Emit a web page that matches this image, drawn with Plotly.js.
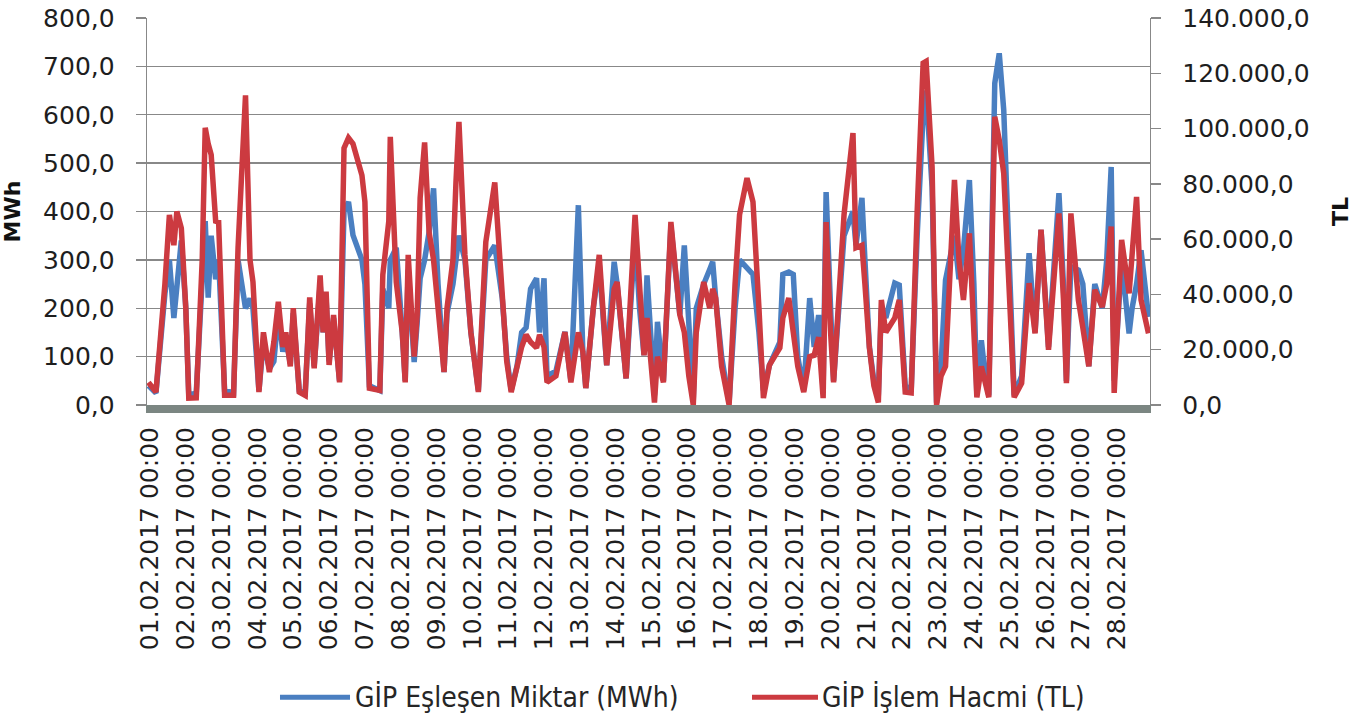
<!DOCTYPE html>
<html>
<head>
<meta charset="utf-8">
<script src="https://cdn.plot.ly/plotly-3.0.1.min.js"></script>
<style>
  html, body { margin: 0; padding: 0; background: #ffffff; }
  #chart { width: 1360px; height: 716px; }
</style>
</head>
<body>
<div id="chart"></div>
<script>
// ---- data (hour index from 01.02.2017 00:00) ----
const dayLabels = [
  "01.02.2017 00:00","02.02.2017 00:00","03.02.2017 00:00","04.02.2017 00:00",
  "05.02.2017 00:00","06.02.2017 00:00","07.02.2017 00:00","08.02.2017 00:00",
  "09.02.2017 00:00","10.02.2017 00:00","11.02.2017 00:00","12.02.2017 00:00",
  "13.02.2017 00:00","14.02.2017 00:00","15.02.2017 00:00","16.02.2017 00:00",
  "17.02.2017 00:00","18.02.2017 00:00","19.02.2017 00:00","20.02.2017 00:00",
  "21.02.2017 00:00","22.02.2017 00:00","23.02.2017 00:00","24.02.2017 00:00",
  "25.02.2017 00:00","26.02.2017 00:00","27.02.2017 00:00","28.02.2017 00:00"
];

const hours = [
  0,5,11,14,17,19,22,25,27,32,36,38,40,42,45,47,51,57,60,65,
  68,70,74,77,81,84,87,90,92,95,97,101,105,108,111,115,117,119,121,124,
  128,131,134,137,143,145,148,155,157,161,162,166,170,172,174,178,180,182,185,188,
  191,194,198,200,204,206,208,212,216,221,226,232,237,240,243,247,250,253,256,260,
  262,265,267,273,279,283,288,291,293,298,302,307,312,314,317,320,326,329,332,334,
  337,339,341,345,350,356,359,362,365,367,372,376,378,380,384,389,393,396,401,405,
  409,412,416,423,425,429,432,435,439,443,446,449,452,454,457,459,466,472,474,478,
  480,483,486,489,491,494,500,503,507,511,515,519,521,525,528,531,534,537,540,543,
  546,550,553,555,558,561,563,567,570,573,576,580,585,590,594,598,603,610,613,615,
  618,623,626,630,634,639,642,645,647,652,657,659,662,665,670
];

// GİP Eşleşen Miktar (MWh)
const matchedMWh = [
  40,25,230,300,180,250,340,200,20,25,250,380,222,350,260,300,30,25,300,200,
  220,200,30,130,75,90,190,110,140,85,190,30,25,210,80,250,150,220,90,180,
  50,400,420,351,300,250,40,30,240,200,300,325,150,50,280,89,170,262,300,357,
  448,250,68,190,250,300,350,300,150,30,300,330,221,100,30,82,150,160,240,262,
  150,262,60,70,151,50,413,110,35,200,290,82,296,250,150,55,350,200,103,268,
  120,20,172,50,370,186,330,150,10,200,250,280,296,221,100,5,200,300,283,270,
  150,30,82,130,270,275,270,100,30,221,120,186,30,440,200,50,350,400,330,428,
  300,120,50,20,200,180,252,248,40,30,350,600,650,450,5,80,258,300,350,260,
  320,465,250,20,134,50,20,665,727,610,355,20,60,314,150,362,120,438,250,50,
  286,279,250,80,250,200,300,492,50,300,148,200,250,320,182
];

// GİP İşlem Hacmi (TL)
const volumeTL = [
  8200,4700,43800,68800,57800,70000,64000,35000,2500,2600,52500,100300,94500,90500,66500,66200,3500,3500,56900,112000,
  52500,44500,4700,26300,11900,22800,37300,21000,26300,14000,35000,4700,3500,38900,13300,46900,26300,41000,14500,32600,
  8200,92900,96600,94500,83100,73500,6100,5300,47100,66500,97000,44500,26300,8200,54300,17500,32600,74900,95000,62500,
  52500,35000,11900,35000,52500,80500,102400,54300,26300,4700,59000,80500,38700,15800,4700,14400,21000,25400,22800,20700,
  25400,21000,8200,10500,26400,8200,26300,19300,6100,35000,54300,14400,42000,44500,26300,9600,68800,43800,18000,31500,
  10500,900,17500,8200,66200,32600,26300,10500,0,26300,44500,35000,42000,38700,14000,0,43800,68800,82100,73500,
  35000,2500,14400,20700,31500,38700,26300,14000,4700,17500,18000,24500,2500,66200,26300,8200,68800,98400,56900,57800,
  43800,20700,7000,900,38000,26300,31500,38000,4700,4400,70000,123700,124300,86100,0,10500,14000,52500,81400,52500,
  38000,62100,26300,2800,14000,7000,2800,104300,95900,83800,50000,2800,7900,44100,25900,63400,20000,69300,38500,7900,
  69300,38000,28000,14000,41700,35500,43800,64600,4400,59700,40400,52500,75300,38000,25900
];

const seriesNames = ["GİP Eşleşen Miktar (MWh)", "GİP İşlem Hacmi (TL)"];
const seriesColors = ["#4a7fc1", "#cc3a40"];

// ---- chart ----
const tickFont = { family: "DejaVu Sans, Verdana, sans-serif", size: 25, color: "#1e1e1e" };
const gridColor = "#888888";

const traces = [
  {
    x: hours, y: matchedMWh, name: seriesNames[0], type: "scatter", mode: "lines",
    line: { color: seriesColors[0], width: 5.5 }, yaxis: "y", showlegend: false
  },
  {
    x: hours, y: volumeTL, name: seriesNames[1], type: "scatter", mode: "lines",
    line: { color: seriesColors[1], width: 5.5 }, yaxis: "y2", showlegend: false
  }
];

const tickvals = dayLabels.map((_, i) => i * 24 + 1);

// legend drawn as shapes + text (paper coordinates)
const legY = -0.755;
const legFont = { family: "Liberation Sans Narrow, DejaVu Sans Condensed, Liberation Sans, sans-serif", size: 28, color: "#262626" };
const layout = {
  width: 1360, height: 716,
  margin: { l: 147, r: 210, t: 18, b: 311 },
  paper_bgcolor: "#ffffff", plot_bgcolor: "#ffffff",
  separators: ",.",
  showlegend: false,
  xaxis: {
    range: [-1, 671],
    tickmode: "array", tickvals: tickvals, ticktext: dayLabels,
    tickangle: -90, tickfont: tickFont, ticks: "",
    showgrid: false, zeroline: false,
    showline: true, linecolor: "#7b8682", linewidth: 8,
    ticklabelstandoff: 4
  },
  yaxis: {
    range: [0, 800], dtick: 100, tickformat: ",.1f",
    tickfont: tickFont, ticks: "outside", ticklen: 10, tickcolor: gridColor, tickwidth: 1.3,
    showgrid: true, gridcolor: gridColor, gridwidth: 1.3, zeroline: false,
    showline: true, linecolor: gridColor, linewidth: 1.3,
    ticklabelstandoff: 16,
    title: { text: "<b>MWh</b>", font: { family: "DejaVu Sans, sans-serif", size: 22, color: "#111" }, standoff: 16 }
  },
  yaxis2: {
    range: [0, 140000], dtick: 20000, tickformat: ",.1f",
    overlaying: "y", side: "right",
    tickfont: tickFont, ticks: "outside", ticklen: 10, tickcolor: gridColor, tickwidth: 1.3,
    showgrid: false, zeroline: false,
    showline: true, linecolor: gridColor, linewidth: 1.3,
    ticklabelstandoff: 16,
    title: { text: "<b>TL</b>", font: { family: "DejaVu Sans, sans-serif", size: 22, color: "#111" }, standoff: 24 }
  },
  shapes: [
    { type: "line", xref: "paper", yref: "paper", x0: 0.1326, x1: 0.2024, y0: legY, y1: legY,
      line: { color: seriesColors[0], width: 5 } },
    { type: "line", xref: "paper", yref: "paper", x0: 0.6032, x1: 0.669, y0: legY, y1: legY,
      line: { color: seriesColors[1], width: 5 } }
  ],
  annotations: [
    { xref: "paper", yref: "paper", x: 0.2054, y: legY, xanchor: "left", yanchor: "middle",
      text: seriesNames[0], showarrow: false, font: legFont },
    { xref: "paper", yref: "paper", x: 0.6712, y: legY, xanchor: "left", yanchor: "middle",
      text: seriesNames[1], showarrow: false, font: legFont }
  ]
};

Plotly.newPlot("chart", traces, layout, { staticPlot: true, displayModeBar: false });
</script>
</body>
</html>
